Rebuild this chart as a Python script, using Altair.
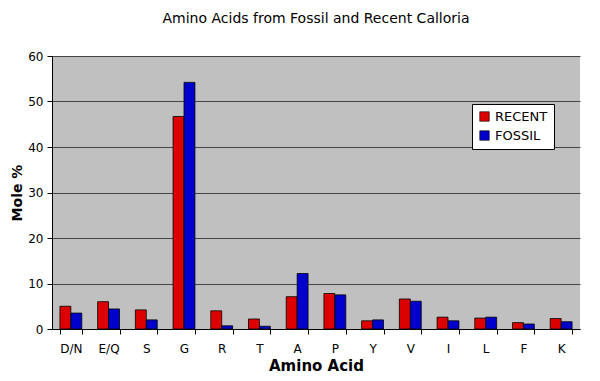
import altair as alt
import pandas as pd

acids = ["D/N", "E/Q", "S", "G", "R", "T", "A", "P", "Y", "V", "I", "L", "F", "K"]
recent = [5.0, 6.0, 4.2, 46.7, 4.0, 2.2, 7.1, 7.8, 1.8, 6.6, 2.6, 2.4, 1.4, 2.3]
fossil = [3.5, 4.4, 2.0, 54.2, 0.7, 0.6, 12.2, 7.5, 2.0, 6.1, 1.8, 2.6, 1.1, 1.6]
series = ["RECENT", "FOSSIL"]
colors = ["#DD0000", "#0000CC"]

rows = []
for i, a in enumerate(acids):
    rows.append({"acid": a, "series": "RECENT", "value": recent[i]})
    rows.append({"acid": a, "series": "FOSSIL", "value": fossil[i]})
df = pd.DataFrame(rows)

font = "DejaVu Sans"

chart = alt.Chart(df).mark_bar(stroke="#000000", strokeWidth=0.8).encode(
    x=alt.X("acid:N", sort=acids,
            scale=alt.Scale(paddingInner=0.42, paddingOuter=0.21),
            axis=alt.Axis(title="Amino Acid", labelAngle=0, tickBand="extent",
                          grid=False, ticks=True, tickSize=5, tickColor="#000",
                          domainColor="#000", labelFontSize=12, labelPadding=9,
                          titleFontSize=15, titleFontWeight="bold", titlePadding=4,
                          labelColor="#000", titleColor="#000")),
    xOffset=alt.XOffset("series:N", sort=series),
    y=alt.Y("value:Q", scale=alt.Scale(domain=[0, 60], nice=False),
            axis=alt.Axis(title="Mole %", values=[0, 10, 20, 30, 40, 50, 60],
                          grid=True, gridColor="#444444", gridWidth=1,
                          tickSize=5, tickColor="#000", domainColor="#000",
                          labelFontSize=12, labelPadding=4, titleFontSize=14,
                          titleFontWeight="bold", titlePadding=3,
                          labelColor="#000", titleColor="#000")),
    color=alt.Color("series:N", sort=series,
                    scale=alt.Scale(domain=series, range=colors),
                    legend=alt.Legend(title=None, orient="none", legendX=420, legendY=48,
                                      fillColor="#FFFFFF", strokeColor="#000000",
                                      padding=6, symbolType="square", symbolSize=90,
                                      symbolStrokeColor="#000", symbolStrokeWidth=0.6,
                                      labelFontSize=13, labelColor="#000",
                                      rowPadding=5, labelOffset=4)),
).properties(
    width=528, height=273,
    title=alt.TitleParams("Amino Acids from Fossil and Recent Calloria",
                          fontSize=14, fontWeight="normal", font=font,
                          anchor="middle", offset=24, color="#000"),
    autosize=alt.AutoSizeParams(type="none"),
    padding={"left": 44, "top": 48, "right": 12, "bottom": 44},
).configure(font=font).configure_view(fill="#C0C0C0", stroke=None)

chart.save("out.html", embed_options={"renderer": "svg", "actions": False})
